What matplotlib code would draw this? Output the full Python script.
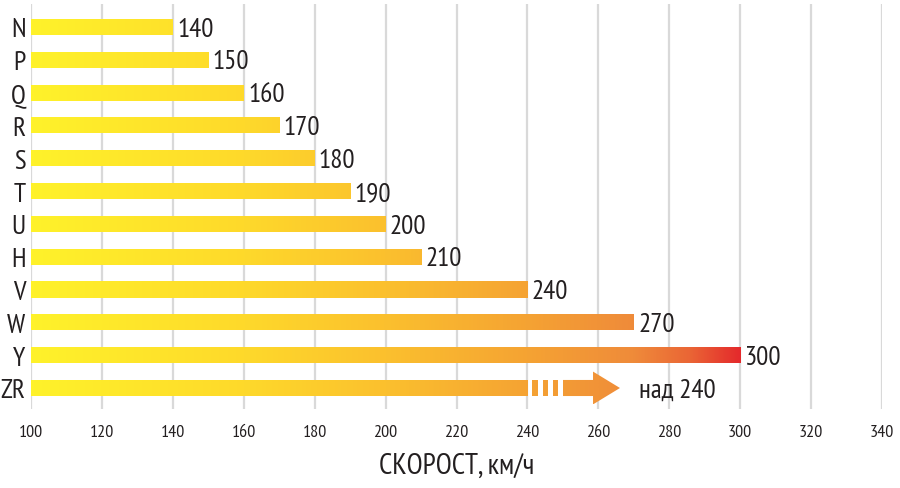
import numpy as np
import matplotlib
matplotlib.use("Agg")
import matplotlib.pyplot as plt
from matplotlib.colors import LinearSegmentedColormap, Normalize
from matplotlib.patches import Rectangle, Polygon

categories = ["N", "P", "Q", "R", "S", "T", "U", "H", "V", "W", "Y", "ZR"]
values = [140, 150, 160, 170, 180, 190, 200, 210, 240, 270, 300, 240]
value_labels = ["140", "150", "160", "170", "180", "190", "200", "210", "240", "270", "300", "над 240"]
open_ended = [False] * 11 + [True]
xticks = [100, 120, 140, 160, 180, 200, 220, 240, 260, 280, 300, 320, 340]
xlabel = "СКОРОСТ, км/ч"

plt.rcParams["font.family"] = ["PT Sans Narrow", "Roboto Condensed", "DejaVu Sans"]

cmap = LinearSegmentedColormap.from_list("speed", [
    (0.0, "#FFF22A"), (0.3, "#FED92B"), (0.5, "#FBC02E"), (0.7, "#F5A333"),
    (0.85, "#EF8B3A"), (0.93, "#EA6535"), (1.0, "#E42A2C")])
norm = Normalize(100, 300)

fig = plt.figure(figsize=(9, 4.89), dpi=100)
ax = fig.add_axes([31/900, 1-410/489, (882-31)/900, (410-5)/489])
ax.set_xlim(100, 340)
ax.set_ylim(11.64, -0.7)
for s in ax.spines.values():
    s.set_visible(False)
ax.set_xticks(xticks)
ax.set_yticks(range(len(categories)))
ax.set_yticklabels(categories, fontsize=19.5, color="#231F20")
ax.tick_params(axis="y", length=0, pad=4)
ax.tick_params(axis="x", length=0, pad=11, labelsize=13, labelcolor="#231F20")
ax.grid(axis="x", color="#D9D9D9", linewidth=1.6)
ax.set_axisbelow(True)
ax.set_xlabel(xlabel, fontsize=21, color="#231F20", labelpad=8)

h = 0.49

def grad_patch(patch, x0, x1, y0, y1):
    ax.add_patch(patch)
    patch.set_visible(False)
    im = ax.imshow(np.linspace(x0, x1, 256)[None, :], cmap=cmap, norm=norm,
                   extent=(x0, x1, y1, y0), aspect="auto", interpolation="bilinear", zorder=3)
    im.set_clip_path(patch)

for i, (v, lab, oe) in enumerate(zip(values, value_labels, open_ended)):
    y0, y1 = i - h/2, i + h/2
    grad_patch(Rectangle((100, y0), v - 100, h), 100, v, y0, y1)
    if not oe:
        ax.text(v + 1.2, i + 0.05, lab, va="center", ha="left", fontsize=19.5, color="#231F20", zorder=4)
    else:
        for a, b in [(1.2, 2.8), (4.4, 5.8), (7.2, 8.6)]:
            grad_patch(Rectangle((v + a, y0), b - a, h), v + a, v + b, y0, y1)
        body0, head0, tip = v + 10.0, v + 18.5, v + 26.1
        poly = Polygon([(body0, y0), (head0, y0), (head0, i - 0.5), (tip, i),
                        (head0, i + 0.5), (head0, y1), (body0, y1)], closed=True)
        grad_patch(poly, body0, tip, i - 0.5, i + 0.5)
        ax.text(tip + 5.5, i + 0.05, lab, va="center", ha="left", fontsize=19.5, color="#231F20", zorder=4)

fig.savefig("out.png", dpi=100)
